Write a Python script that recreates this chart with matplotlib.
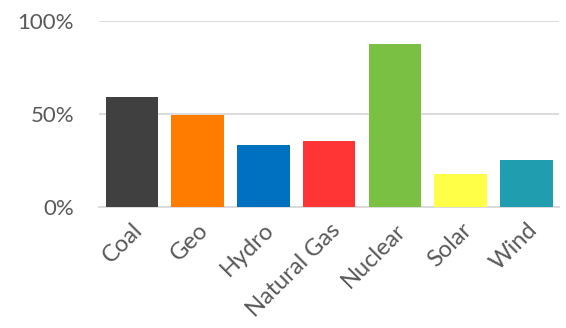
import matplotlib
matplotlib.use('Agg')
import matplotlib.pyplot as plt
from matplotlib.ticker import PercentFormatter

categories = ['Coal', 'Geo', 'Hydro', 'Natural Gas', 'Nuclear', 'Solar', 'Wind']
share = [0.591, 0.495, 0.333, 0.355, 0.876, 0.177, 0.253]
colors = ['#404040', '#FF7C00', '#0070C0', '#FF3535', '#7AC143', '#FFFF47', '#209DAF']
yticks = [0, 0.5, 1.0]

plt.rcParams['font.family'] = ['Lato', 'DejaVu Sans']

fig = plt.figure(figsize=(5.66, 3.28), dpi=100)
ax = fig.add_axes([0.175, 0.369, 0.813, 0.567])

x = range(len(categories))
ax.bar(x, share, width=0.8, color=colors, zorder=3)

ax.set_ylim(0, 1)
ax.set_xlim(-0.5, len(categories) - 0.5)
ax.set_yticks(yticks)
ax.yaxis.set_major_formatter(PercentFormatter(1.0, decimals=0))
ax.grid(axis='y', color='#D9D9D9', linewidth=1.3, zorder=0)
ax.set_axisbelow(True)

for s in ['top', 'right', 'left']:
    ax.spines[s].set_visible(False)
ax.spines['bottom'].set_color('#D9D9D9')
ax.spines['bottom'].set_linewidth(1.3)

ax.set_xticks(list(x))
ax.set_xticklabels(categories, rotation=45, ha='right', rotation_mode='anchor')
ax.tick_params(axis='both', length=0, labelcolor='#595959')
ax.tick_params(axis='y', pad=18, labelsize=16)
ax.tick_params(axis='x', pad=9, labelsize=17)

fig.savefig('out.png', dpi=100)
